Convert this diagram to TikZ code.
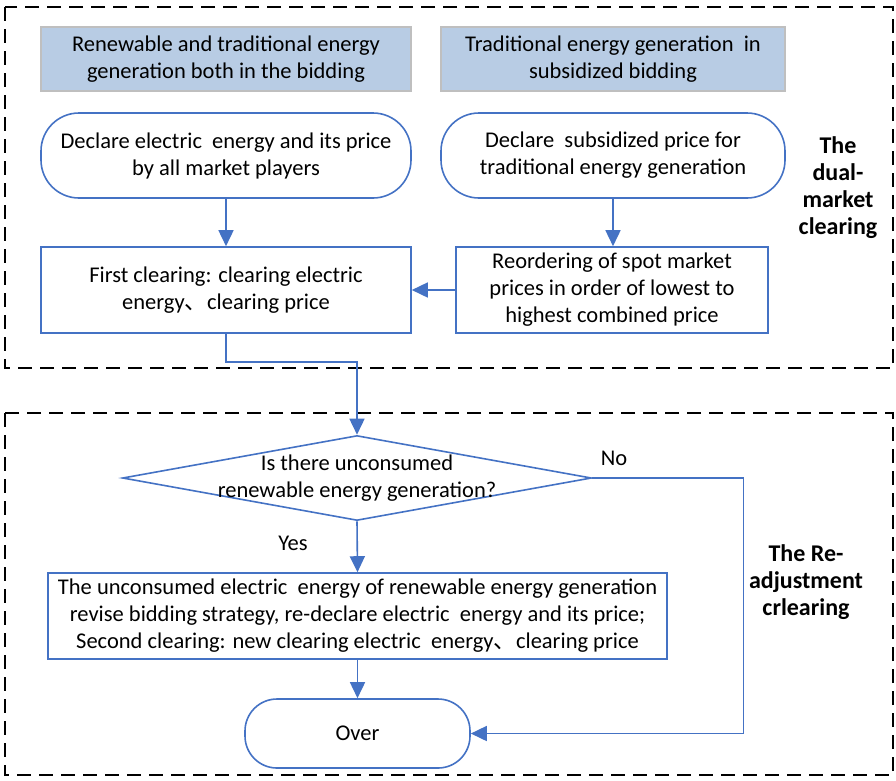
\documentclass[tikz,border=0pt]{standalone}
\usepackage{fontspec}
\setmainfont{Carlito}
\newfontfamily\cjk{Noto Sans CJK SC}
\usetikzlibrary{arrows.meta,shapes.geometric}
\definecolor{flowblue}{RGB}{68,114,196}
\definecolor{headfill}{RGB}{184,204,228}
\definecolor{headline}{RGB}{191,191,191}
\newcommand{\dunhao}{{\cjk 、}}
\begin{document}
\begin{tikzpicture}[x=1pt,y=-1pt,
  font=\fontsize{22.5}{27}\selectfont,
  every node/.style={align=center,inner sep=0pt},
  region/.style={draw=black,line width=2.2pt,dash pattern=on 14pt off 8pt},
  headbox/.style={draw=headline,fill=headfill,line width=1.6pt,minimum height=64pt},
  roundbox/.style={draw=flowblue,line width=1.6pt,rounded corners=38pt,minimum height=85pt},
  plainbox/.style={draw=flowblue,line width=1.6pt,minimum height=86pt},
  conn/.style={draw=flowblue,line width=1.6pt},
  arr/.style={conn,-{Triangle[length=16pt,width=15pt]}},
  sidelabel/.style={font=\fontsize{24}{27}\selectfont\bfseries}
]
\useasboundingbox (0,0) rectangle (896,780);
% dashed regions
\draw[region] (5,7) rectangle (893,368);
\draw[region] (5,413) rectangle (893,775);
% header boxes
\node[headbox,minimum width=370pt] (h1) at (226,59) {Renewable and traditional energy\\generation both in the bidding};
\node[headbox,minimum width=344pt] (h2) at (613,59) {Traditional energy generation\ \ in\\subsidized bidding};
% rounded boxes
\node[roundbox,minimum width=370pt] (r1) at (226,155.5) {Declare electric\ \ energy and its price\\by all market players};
\node[roundbox,minimum width=344pt] (r2) at (613,155.5) {Declare\ \ subsidized price for\\traditional energy generation};
% clearing boxes
\node[plainbox,minimum width=370pt] (f1) at (226,290) {First clearing: clearing electric\\energy\dunhao clearing price};
\node[plainbox,minimum width=312pt] (ro) at (612,290) {Reordering of spot market\\prices in order of lowest to\\highest combined price};
% decision
\node[diamond,draw=flowblue,line width=1.6pt,minimum width=469pt,minimum height=85pt,
  label={[align=center]center:Is there unconsumed\\renewable energy generation?}] (dia) at (357,478) {};
\node[plainbox,minimum width=619pt] (b3) at (357.5,616) {The unconsumed electric\ \ energy of renewable energy generation\\revise bidding strategy, re-declare electric\ \ energy and its price;\\Second clearing: new clearing electric\ \ energy\dunhao clearing price};
\node[roundbox,rounded corners=32pt,minimum width=225pt,minimum height=69pt] (over) at (357.5,733.5) {Over};
% side labels
\node[sidelabel] (lab1) at (838,188) {The\\dual-\\market\\clearing};
\node[sidelabel] (lab2) at (806,582) {The Re-\\adjustment\\crlearing};
\node (yes) at (293,543) {Yes};
\node (no) at (614,458) {No};
% connectors
\draw[arr] (r1.south) -- (f1.north);
\draw[arr] (r2.south) -- (r2.south |- ro.north);
\draw[arr] (ro.west) -- (f1.east);
\draw[arr] (f1.south) -- ++(0,28) -| (dia.north);
\draw[arr] (dia.south) -- (b3.north);
\draw[arr] (b3.south) -- (over.north);
\draw[arr] (dia.east) -- ++(151,0) |- (over.east);
\end{tikzpicture}
\end{document}
